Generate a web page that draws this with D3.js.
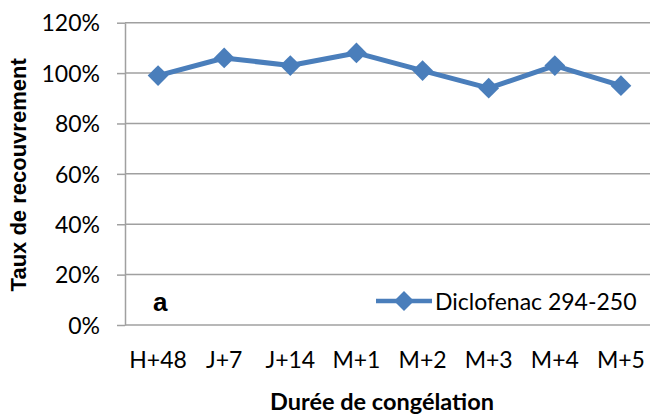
<!DOCTYPE html>
<html>
<head>
<meta charset="utf-8">
<script src="https://cdn.jsdelivr.net/npm/d3@7"></script>
<style>
  html, body { margin: 0; padding: 0; background: #fff; }
  svg { display: block; }
  text { fill: #000; }
</style>
</head>
<body>
<svg id="chart" width="650" height="414"></svg>
<script>
// Recovery rate of diclofenac after freezing, by storage duration
const categories = ["H+48", "J+7", "J+14", "M+1", "M+2", "M+3", "M+4", "M+5"];
const recovery = [0.99, 1.06, 1.03, 1.08, 1.01, 0.94, 1.03, 0.95];
const yTicks = [0, 0.2, 0.4, 0.6, 0.8, 1.0, 1.2];
const seriesName = "Diclofenac 294-250";
const panelLetter = "a";
const xTitle = "Durée de congélation";
const yTitle = "Taux de recouvrement";

const blue = "#4a7ebb";
const gridColor = "#a0a0a0";
const tickFont = "Lato, 'Open Sans', sans-serif";
const tickSize = 23;

const svg = d3.select("#chart");

const plot = { left: 125, right: 654, top: 22.7, bottom: 325 };

const x = d3.scaleBand().domain(categories).range([plot.left, plot.right]).padding(0);
const y = d3.scaleLinear().domain([0, 1.2]).range([plot.bottom, plot.top]);

// horizontal gridlines
svg.append("g")
  .selectAll("line")
  .data(yTicks)
  .join("line")
  .attr("x1", plot.left)
  .attr("x2", 650)
  .attr("y1", d => y(d))
  .attr("y2", d => y(d))
  .attr("stroke", gridColor)
  .attr("stroke-width", 1.5);

// vertical axis with outward ticks
const yAxis = svg.append("g")
  .attr("transform", `translate(${plot.left},0)`)
  .call(d3.axisLeft(y).tickValues(yTicks).tickFormat(d3.format(".0%"))
    .tickSizeInner(8).tickSizeOuter(0).tickPadding(17));
yAxis.select(".domain").attr("stroke", gridColor).attr("stroke-width", 1.5);
yAxis.selectAll(".tick line").attr("stroke", gridColor).attr("stroke-width", 1.5);
yAxis.selectAll(".tick text")
  .attr("dy", "0.36em")
  .attr("font-family", tickFont).attr("font-size", tickSize).attr("fill", "#000");

// category labels
const xAxis = svg.append("g")
  .attr("transform", `translate(0,${plot.bottom})`)
  .call(d3.axisBottom(x).tickSize(0).tickPadding(0));
xAxis.select(".domain").remove();
xAxis.selectAll(".tick text")
  .attr("y", 43).attr("dy", 0)
  .attr("font-family", tickFont).attr("font-size", tickSize).attr("fill", "#000");

// axis titles
svg.append("text")
  .attr("x", 382).attr("y", 410)
  .attr("text-anchor", "middle")
  .attr("font-family", tickFont).attr("font-weight", "bold").attr("font-size", 23.5)
  .text(xTitle);

svg.append("text")
  .attr("transform", `translate(26,${(plot.top + plot.bottom) / 2 + 1}) rotate(-90)`)
  .attr("text-anchor", "middle")
  .attr("font-family", "'Liberation Sans', Arial, sans-serif").attr("font-weight", "bold").attr("font-size", 22)
  .text(yTitle);

// series line and diamond markers
const cx = d => x(d) + x.bandwidth() / 2;
const line = d3.line().x((d, i) => cx(categories[i])).y(d => y(d));

svg.append("path")
  .datum(recovery)
  .attr("d", line)
  .attr("fill", "none")
  .attr("stroke", blue)
  .attr("stroke-width", 5)
  .attr("stroke-linejoin", "round");

svg.append("g")
  .selectAll("path")
  .data(recovery)
  .join("path")
  .attr("transform", (d, i) => `translate(${cx(categories[i])},${y(d)}) rotate(45)`)
  .attr("d", d3.symbol().type(d3.symbolSquare).size(215))
  .attr("fill", blue);

// legend
const legend = svg.append("g").attr("transform", "translate(0,301)");
legend.append("line")
  .attr("x1", 376).attr("x2", 432).attr("y1", 0).attr("y2", 0)
  .attr("stroke", blue).attr("stroke-width", 4.5);
legend.append("path")
  .attr("transform", "translate(404,0) rotate(45)")
  .attr("d", d3.symbol().type(d3.symbolSquare).size(200))
  .attr("fill", blue);
legend.append("text")
  .attr("x", 435).attr("y", 9)
  .attr("font-family", tickFont).attr("font-size", tickSize)
  .text(seriesName);

// panel letter
svg.append("text")
  .attr("x", 153).attr("y", 311)
  .attr("font-family", "'Liberation Sans', Arial, sans-serif").attr("font-weight", "bold").attr("font-size", 26)
  .text(panelLetter);
</script>
</body>
</html>
